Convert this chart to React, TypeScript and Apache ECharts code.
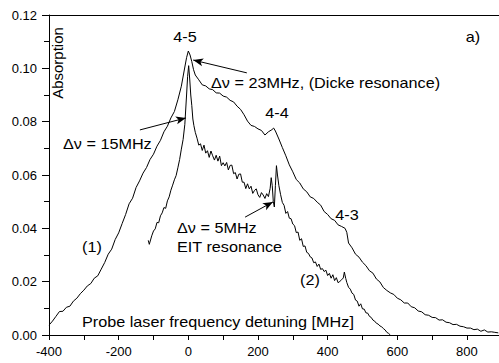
import React, { useEffect, useRef } from "react";
import * as echarts from "echarts";

// Curve (1): Doppler-broadened absorption with Dicke peak
const x1 = [
  -400, -390, -380, -370, -360, -350, -340, -330, -320, -310, -300, -290, -280, -270, -260, -250, -240, -230, -220, -210,
  -200, -190, -180, -170, -160, -150, -140, -130, -120, -110, -100, -90, -80, -70, -60, -50, -40, -30, -20, -10,
  -5, 0, 5, 10, 15, 20, 30, 40, 50, 60, 70, 80, 90, 100, 110, 120, 130, 140, 150, 160,
  170, 180, 190, 200, 210, 220, 230, 240, 245, 250, 260, 270, 280, 290, 300, 310, 320, 330, 340, 350,
  360, 370, 380, 390, 400, 410, 420, 430, 440, 450, 455, 460, 470, 480, 490, 500, 510, 520, 530, 540,
  550, 560, 570, 580, 590, 600, 610, 620, 630, 640, 650, 660, 670, 680, 690, 700, 710, 720, 730, 740,
  750, 760, 770, 780, 790, 800, 810, 820, 830, 840, 850, 860, 870, 880, 890,
];
const y1 = [
  0.0037, 0.0052, 0.0070, 0.0088, 0.0089, 0.0104, 0.0108, 0.0127, 0.0138, 0.0155, 0.0168, 0.0184, 0.0193, 0.0213, 0.0222, 0.0247, 0.0272, 0.0303, 0.0322, 0.0358,
  0.0383, 0.0418, 0.0452, 0.0492, 0.0513, 0.0553, 0.0578, 0.0607, 0.0628, 0.0658, 0.0678, 0.0708, 0.0730, 0.0762, 0.0783, 0.0814, 0.0838, 0.0882, 0.0933, 0.1005,
  0.1040, 0.1065, 0.1050, 0.1025, 0.0995, 0.0975, 0.0957, 0.0938, 0.0934, 0.0923, 0.0920, 0.0908, 0.0907, 0.0896, 0.0892, 0.0880, 0.0874, 0.0858, 0.0846, 0.0826,
  0.0802, 0.0786, 0.0782, 0.0773, 0.0767, 0.0750, 0.0762, 0.0770, 0.0776, 0.0765, 0.0735, 0.0703, 0.0672, 0.0638, 0.0612, 0.0583, 0.0570, 0.0548, 0.0537, 0.0518,
  0.0512, 0.0498, 0.0487, 0.0463, 0.0452, 0.0436, 0.0430, 0.0413, 0.0407, 0.0400, 0.0385, 0.0345, 0.0327, 0.0303, 0.0292, 0.0273, 0.0260, 0.0241, 0.0232, 0.0210,
  0.0199, 0.0178, 0.0167, 0.0158, 0.0152, 0.0138, 0.0132, 0.0120, 0.0120, 0.0106, 0.0102, 0.0090, 0.0087, 0.0076, 0.0074, 0.0066, 0.0065, 0.0056, 0.0057, 0.0048,
  0.0046, 0.0039, 0.0040, 0.0033, 0.0031, 0.0026, 0.0026, 0.0020, 0.0022, 0.0014, 0.0019, 0.0011, 0.0012, 0.0010, 0.0008,
];

// Curve (2): with coupling laser, EIT resonance
const x2 = [
  -115, -112, -105, -100, -95, -90, -85, -80, -75, -70, -65, -60, -55, -50, -45, -40, -35, -30, -25, -20,
  -15, -10, -5, -2, 1, 4, 7, 10, 13, 16, 20, 25, 30, 35, 40, 45, 50, 55, 60, 65,
  70, 75, 80, 85, 90, 95, 100, 105, 110, 115, 120, 125, 130, 135, 140, 145, 150, 155, 160, 165,
  170, 175, 180, 185, 190, 195, 200, 205, 210, 215, 220, 225, 230, 235, 238, 241, 244, 247, 250, 253,
  256, 260, 265, 270, 275, 280, 285, 290, 295, 300, 305, 310, 315, 320, 325, 330, 335, 340, 345, 350,
  355, 360, 365, 370, 375, 380, 385, 390, 395, 400, 405, 410, 415, 420, 425, 430, 435, 440, 445, 448,
  452, 455, 460, 465, 470, 475, 480, 485, 490, 495, 500, 505, 510, 515, 520, 525, 530, 535, 540, 545,
  550, 555, 560, 565, 570, 575, 580,
];
const y2 = [
  0.0355, 0.0340, 0.0372, 0.0390, 0.0398, 0.0422, 0.0421, 0.0447, 0.0458, 0.0478, 0.0475, 0.0503, 0.0518, 0.0543, 0.0562, 0.0582, 0.0598, 0.0627, 0.0658, 0.0697,
  0.0733, 0.0790, 0.0900, 0.0970, 0.1010, 0.0960, 0.0900, 0.0860, 0.0810, 0.0785, 0.0760, 0.0738, 0.0712, 0.0717, 0.0692, 0.0712, 0.0682, 0.0691, 0.0666, 0.0690,
  0.0672, 0.0656, 0.0674, 0.0652, 0.0671, 0.0635, 0.0646, 0.0634, 0.0647, 0.0619, 0.0636, 0.0637, 0.0605, 0.0609, 0.0585, 0.0603, 0.0604, 0.0573, 0.0573, 0.0549,
  0.0567, 0.0548, 0.0558, 0.0531, 0.0542, 0.0548, 0.0526, 0.0516, 0.0534, 0.0525, 0.0512, 0.0530, 0.0519, 0.0550, 0.0590, 0.0560, 0.0500, 0.0480, 0.0560, 0.0635,
  0.0600, 0.0560, 0.0526, 0.0497, 0.0486, 0.0456, 0.0463, 0.0438, 0.0436, 0.0416, 0.0410, 0.0384, 0.0386, 0.0355, 0.0361, 0.0332, 0.0334, 0.0310, 0.0306, 0.0293,
  0.0289, 0.0271, 0.0274, 0.0257, 0.0266, 0.0246, 0.0249, 0.0238, 0.0243, 0.0223, 0.0231, 0.0213, 0.0226, 0.0204, 0.0215, 0.0196, 0.0201, 0.0207, 0.0214, 0.0236,
  0.0212, 0.0197, 0.0179, 0.0172, 0.0157, 0.0152, 0.0131, 0.0127, 0.0108, 0.0117, 0.0098, 0.0097, 0.0083, 0.0082, 0.0070, 0.0066, 0.0056, 0.0052, 0.0044, 0.0041,
  0.0034, 0.0031, 0.0024, 0.0019, 0.0010, 0.0006, 0.0000,
];

const xTicks = [-400, -200, 0, 200, 400, 600, 800];
const yTicks = [0, 0.02, 0.04, 0.06, 0.08, 0.1, 0.12];

// Arrows: [fromX, fromY, toX, toY] in data units
const arrows = [
  [168, 0.0983, 14, 0.1031],
  [-139, 0.0769, -7, 0.0814],
  [163, 0.0442, 243, 0.0499],
];

const FONT = "Liberation Sans, Arial, sans-serif";

export default function App() {
  const ref = useRef<HTMLDivElement>(null);
  useEffect(() => {
    if (!ref.current) return;
    const chart = echarts.init(ref.current, null, { renderer: "svg" });
    const d1 = x1.map((x, i) => [x, y1[i]]);
    const d2 = x2.map((x, i) => [x, y2[i]]);
    const txt = (text: string, x: number, y: number, align = "left", extra: any = {}) => ({
      type: "text",
      x,
      y,
      scaleX: 1.08,
      style: { text, fill: "#000", font: `15px ${FONT}`, align, verticalAlign: "middle" },
      ...extra,
    });
    chart.setOption({
      animation: false,
      backgroundColor: "#fff",
      grid: { left: 49, top: 15, right: 0, bottom: 28, containLabel: false },
      xAxis: [
        {
          type: "value",
          min: -400,
          max: 892,
          interval: 200,
          axisLine: { show: true, onZero: false, lineStyle: { color: "#000", width: 1 } },
          axisTick: { show: true, length: 5, lineStyle: { color: "#000" } },
          minorTick: { show: true, splitNumber: 2, length: 5, lineStyle: { color: "#000" } },
          splitLine: { show: false },
          axisLabel: {
            color: "#000",
            fontSize: 13,
            fontFamily: FONT,
            margin: 10,
            showMaxLabel: false,
            formatter: (v: number) => (xTicks.includes(v) ? String(v) : ""),
          },
        },
        {
          type: "value",
          position: "top",
          min: -400,
          max: 892,
          axisLine: { show: true, onZero: false, lineStyle: { color: "#000", width: 1 } },
          axisTick: { show: false },
          axisLabel: { show: false },
          splitLine: { show: false },
        },
      ],
      yAxis: {
        type: "value",
        min: 0,
        max: 0.12,
        interval: 0.02,
        axisLine: { show: true, onZero: false, lineStyle: { color: "#000", width: 1 } },
        axisTick: { show: true, length: 7, lineStyle: { color: "#000" } },
        minorTick: { show: true, splitNumber: 2, length: 5, lineStyle: { color: "#000" } },
        splitLine: { show: false },
        axisLabel: {
          color: "#000",
          fontSize: 13,
          fontFamily: FONT,
          margin: 12,
          formatter: (v: number) => {
            const m = yTicks.find((t) => Math.abs(t - v) < 1e-9);
            return m === undefined ? "" : m.toFixed(2);
          },
        },
      },
      series: [
        {
          type: "line",
          data: d1,
          showSymbol: false,
          lineStyle: { color: "#000", width: 1 },
          silent: true,
          markLine: {
            silent: true,
            symbol: ["none", "arrow"],
            symbolSize: [6, 10],
            label: { show: false },
            lineStyle: { color: "#000", width: 1, type: "solid" },
            data: arrows.map((a) => [{ coord: [a[0], a[1]] }, { coord: [a[2], a[3]] }]),
          },
        },
        {
          type: "line",
          data: d2,
          showSymbol: false,
          lineStyle: { color: "#000", width: 1 },
          silent: true,
        },
      ],
      graphic: [
        txt("4-5", 185, 37, "center"),
        txt("a)", 473, 37, "center"),
        txt("Δν = 23MHz, (Dicke resonance)", 211, 83),
        txt("4-4", 277, 113, "center"),
        txt("Δν = 15MHz", 63, 144),
        txt("Δν = 5MHz", 177, 228),
        txt("EIT resonance", 177, 247),
        txt("4-3", 347, 215, "center"),
        txt("(1)", 92, 247, "center"),
        txt("(2)", 310, 280, "center"),
        txt("Probe laser frequency detuning [MHz]", 82, 322),
        txt("Absorption", 57, 63, "center", { rotation: Math.PI / 2, scaleX: 1, scaleY: 1 }),
      ],
    });
    return () => chart.dispose();
  }, []);
  return <div ref={ref} style={{ position: "absolute", left: 0, top: 0, width: 499, height: 363 }} />;
}
